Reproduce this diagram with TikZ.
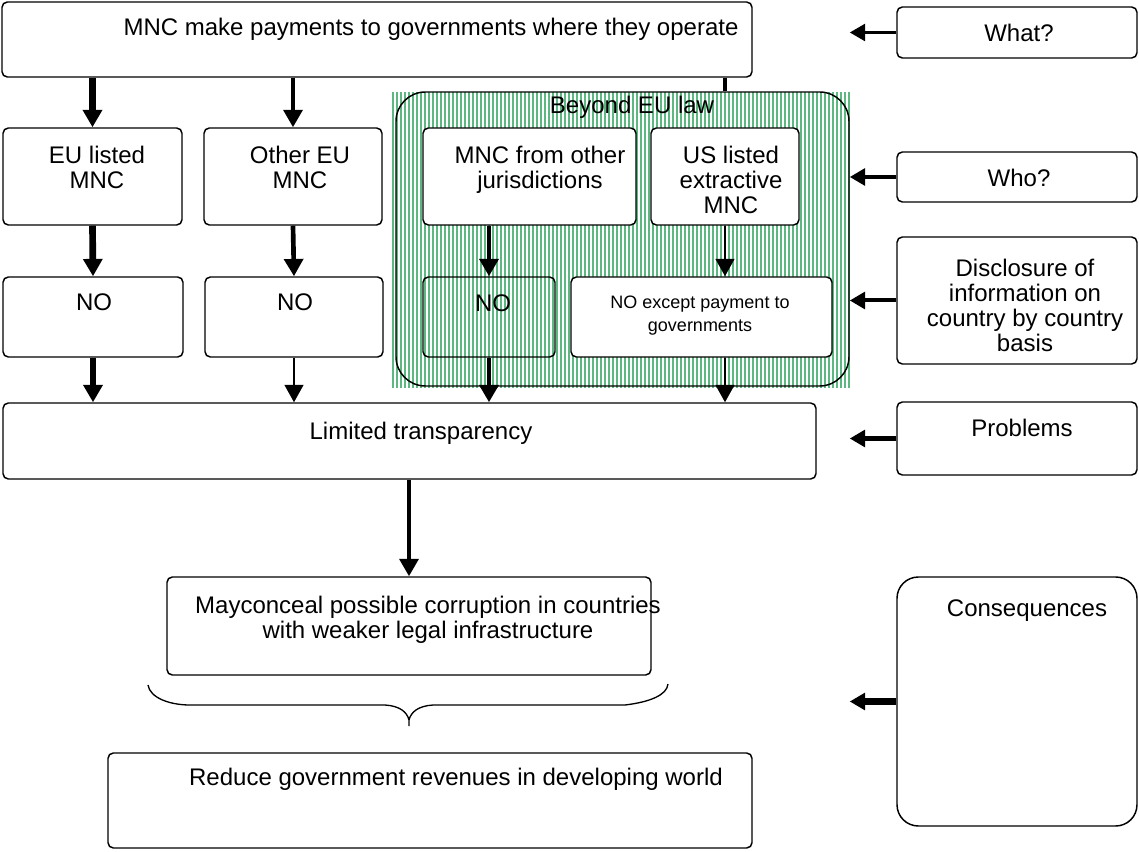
\documentclass[tikz,border=0pt]{standalone}
\usepackage{fontspec}
\setmainfont{Liberation Sans}
\usetikzlibrary{arrows.meta,fit}
\definecolor{hatchgreen}{RGB}{92,184,128}
\begin{document}
\begin{tikzpicture}[x=0.75pt,y=-0.75pt,
  box/.style={draw, line width=1.1pt, rounded corners=4pt, inner sep=0pt, fill=white},
  openbox/.style={draw, line width=1.1pt, rounded corners=4pt, inner sep=0pt},
  txt/.style={font=\fontsize{18}{18.6}\selectfont, align=center, inner sep=0pt},
  smalltxt/.style={font=\fontsize{13.5}{17.2}\selectfont, align=center, inner sep=0pt},
  arr/.style={-{Triangle[length=13pt,width=14pt]}},
  harr/.style={-{Triangle[length=11.5pt,width=12.5pt]}},
  hatchline/.style={draw=hatchgreen, line width=0.9pt},
  wA/.style={line width=5pt},
  wB/.style={line width=3.5pt},
  wC/.style={line width=3pt},
  wD/.style={line width=1.6pt},
]
\useasboundingbox (0,0) rectangle (1139,852);

% hatched region "Beyond EU law"
\foreach \hx in {393,397,...,851} \draw[hatchline] (\hx,92) -- (\hx,388);
\node[draw, line width=1.1pt, rounded corners=22pt, inner sep=0pt, fit={(396,92) (849,386)}] (beyond) {};
\node[txt] (tbeyond) at (632,107) {Beyond EU law};

% top box
\node[box, fit={(2,2) (752,77)}] (top) {};
\node[txt] (ttop) at (431,29) {MNC make payments to governments where they operate};

% right-hand boxes
\node[box, fit={(897,7) (1137,58)}] (what) {};
\node[txt] (twhat) at (1019,33) {What?};
\node[box, fit={(897,152) (1137,202)}] (who) {};
\node[txt] (twho) at (1019,178) {Who?};
\node[box, fit={(897,237) (1137,364)}] (disc) {};
\node[txt] (tdisc) at (1025,305.5) {Disclosure of\\information on\\country by country\\basis};
\node[box, fit={(897,402) (1137,475)}] (prob) {};
\node[txt] (tprob) at (1022,428) {Problems};
\node[draw, line width=1.1pt, rounded corners=16pt, inner sep=0pt, fill=white, fit={(897,577) (1137,826)}] (cons) {};
\node[txt] (tcons) at (1027,611) {Consequences};

% who row
\node[box, fit={(3,128) (182,225)}] (eu) {};
\node[txt] (teu) at (97,167.5) {EU listed\\MNC};
\node[box, fit={(204,128) (382,225)}] (oeu) {};
\node[txt] (toeu) at (300,167.5) {Other EU\\MNC};
\node[box, fit={(423,128) (636,225)}] (mo) {};
\node[txt] (tmo) at (540,170) {MNC from other\\jurisdictions};
\node[box, fit={(651,128) (799,225)}] (us) {};
\node[txt] (tus) at (731,180) {US listed\\extractive\\MNC};

% NO row
\node[box, fit={(3,277) (183,357)}] (no1) {};
\node[txt] (tno1) at (94,302) {NO};
\node[box, fit={(205,277) (383,357)}] (no2) {};
\node[txt] (tno2) at (295,302) {NO};
\node[openbox, fit={(423,277) (555,357)}] (no3) {};
\node[txt] (tno3) at (493,303) {NO};
\node[box, fit={(571,277) (832,357)}] (nox) {};
\node[smalltxt] (tnox) at (700,316) {NO except payment to\\governments};

% problems / consequences
\node[box, fit={(3,403) (816,479)}] (lt) {};
\node[txt] (tlt) at (421,433) {Limited transparency};
\node[box, fit={(167,577) (651,675)}] (mc) {};
\node[txt] (tmc) at (428,619.5) {Mayconceal possible corruption in countries\\with weaker legal infrastructure};
\node[box, fit={(108,753) (752,848)}] (rd) {};
\node[txt] (trd) at (456,779) {Reduce government revenues in developing world};

% brace
\draw[line width=1pt] (148,685) .. controls (150,698) and (170,705) .. (190,705) -- (385,705)
  .. controls (400,706) and (407,712) .. (409,720) -- (409,726);
\draw[line width=1pt] (409,720) .. controls (411,712) and (418,706) .. (433,705) -- (625,705)
  .. controls (650,702) and (667,695) .. (668,684);

% vertical connectors
\draw[arr, wA] (top.south -| eu.north) -- (eu.north);
\draw[arr, wC] (top.south -| oeu.north) -- (oeu.north);
\draw[wC] (top.south -| us.north) -- (beyond.north -| us.north);
\draw[arr, wA] (eu.south) -- (no1.north);
\draw[arr, wB] (oeu.south) -- (no2.north);
\draw[arr, wB] (mo.south -| no3.north) -- (no3.north);
\draw[arr, wD] (us.south) -- (us.south |- nox.north);
\draw[arr, wA] (no1.south) -- (no1.south |- lt.north);
\draw[arr, wD] (no2.south) -- (no2.south |- lt.north);
\draw[arr, wB] (no3.south) -- (no3.south |- lt.north);
\draw[arr, wD] (nox.south -| us.south) -- (lt.north -| us.south);
\draw[arr, wC] (lt.south -| mc.north) -- (mc.north);

% horizontal connectors from right-hand boxes
\draw[harr, line width=2.5pt] (what.west) -- (what.west -| beyond.east);
\draw[harr, wB] (who.west) -- (who.west -| beyond.east);
\draw[harr, wC] (disc.west) -- (disc.west -| beyond.east);
\draw[harr, wB] (prob.west) -- (prob.west -| beyond.east);
\draw[harr, wA] (cons.west) -- (cons.west -| beyond.east);
\end{tikzpicture}
\end{document}
